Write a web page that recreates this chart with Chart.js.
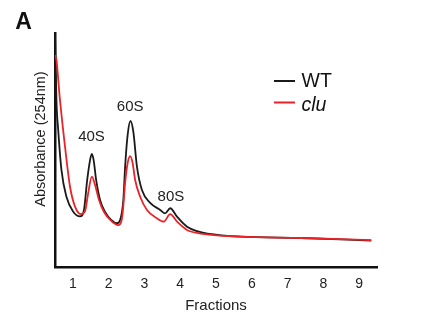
<!DOCTYPE html>
<html>
<head>
<meta charset="utf-8">
<script src="https://cdn.jsdelivr.net/npm/chart.js@4/dist/chart.umd.min.js"></script>
<style>
  html, body { margin: 0; padding: 0; background: #fff; }
  canvas { display: block; }
</style>
</head>
<body>
<canvas id="c" width="427" height="323"></canvas>
<script>
// ---- data ----
const fractionTicks = [1, 2, 3, 4, 5, 6, 7, 8, 9];

const wtX = [0.5, 0.54, 0.59, 0.68, 0.82, 1.01, 1.20, 1.31, 1.40, 1.48, 1.53, 1.58, 1.65, 1.76, 1.90, 2.07, 2.23, 2.32, 2.41, 2.46, 2.53, 2.61, 2.69, 2.79, 2.93, 3.16, 3.44, 3.58, 3.72, 3.91, 4.19, 4.52, 4.76, 5.69, 7.38, 9.34];
const wtY = [100, 71.4, 58.5, 41.5, 30.0, 23.6, 21.6, 24.4, 37.2, 45.7, 48.3, 45.7, 37.2, 28.6, 23.5, 20.1, 18.7, 20.1, 28.6, 42.9, 56.4, 62.4, 57.7, 42.9, 32.9, 27.4, 24.4, 22.9, 25.1, 21.5, 17.2, 15.1, 14.3, 13.0, 12.4, 11.3];

const cluX = [0.5, 0.54, 0.63, 0.78, 0.92, 1.06, 1.22, 1.34, 1.42, 1.53, 1.62, 1.73, 1.87, 2.07, 2.27, 2.35, 2.40, 2.46, 2.53, 2.60, 2.67, 2.74, 2.88, 3.07, 3.35, 3.54, 3.72, 3.91, 4.19, 4.57, 5.69, 7.38, 9.34];
const cluY = [90.6, 88.5, 72.8, 51.4, 34.3, 25.8, 22.6, 23.9, 30.8, 38.6, 35.0, 28.6, 23.5, 19.7, 17.9, 19.2, 24.4, 35.9, 44.4, 47.4, 44.4, 37.2, 30.0, 24.4, 20.8, 19.4, 22.6, 19.4, 15.8, 14.3, 13.0, 12.4, 11.5];

const seriesNames = ['WT', 'clu'];
const peakLabels = ['40S', '60S', '80S'];
const peakLabelX = [1.52, 2.60, 3.74];
const peakLabelY = [55.5, 68.5, 30];

const yTitle = 'Absorbance (254nm)';
const xTitle = 'Fractions';
const panelLetter = 'A';

const toPts = (xs, ys) => xs.map((x, i) => ({ x: x, y: ys[i] }));

const annotations = {
  id: 'annotations',
  afterDatasetsDraw(chart) {
    const ctx = chart.ctx;
    const xs = chart.scales.x, ys = chart.scales.y;
    ctx.save();
    // peak labels
    ctx.fillStyle = '#222';
    ctx.font = '15px "Liberation Sans", Arial, sans-serif';
    ctx.textAlign = 'center';
    ctx.textBaseline = 'middle';
    peakLabels.forEach((t, i) => {
      ctx.fillText(t, xs.getPixelForValue(peakLabelX[i]), ys.getPixelForValue(peakLabelY[i]));
    });
    // panel letter
    ctx.font = 'bold 23px "Liberation Sans", Arial, sans-serif';
    ctx.textAlign = 'center';
    ctx.textBaseline = 'alphabetic';
    ctx.fillStyle = '#111';
    ctx.fillText(panelLetter, 23.5, 29);
    // legend
    const colors = [chart.data.datasets[0].borderColor, chart.data.datasets[1].borderColor];
    const rowsY = [81, 102.5];
    const baseY = [86.5, 111];
    seriesNames.forEach((n, i) => {
      ctx.strokeStyle = colors[i];
      ctx.lineWidth = 2;
      ctx.beginPath();
      ctx.moveTo(274, rowsY[i]);
      ctx.lineTo(295, rowsY[i]);
      ctx.stroke();
      ctx.fillStyle = '#111';
      ctx.font = (i === 1 ? 'italic ' : '') + '19.5px "Liberation Sans", Arial, sans-serif';
      ctx.textAlign = 'left';
      ctx.textBaseline = 'alphabetic';
      ctx.fillText(n, 301.5, baseY[i]);
    });
    // y axis title
    ctx.translate(41, 139);
    ctx.rotate(-Math.PI / 2);
    ctx.font = '14.5px "Liberation Sans", Arial, sans-serif';
    ctx.textAlign = 'center';
    ctx.textBaseline = 'middle';
    ctx.fillStyle = '#222';
    ctx.fillText(yTitle, 0, 0);
    ctx.restore();
  }
};

new Chart(document.getElementById('c'), {
  type: 'line',
  data: {
    datasets: [
      {
        label: seriesNames[0],
        data: toPts(wtX, wtY),
        borderColor: '#1a1a1a',
        borderWidth: 1.8,
        pointRadius: 0,
        cubicInterpolationMode: 'monotone',
        fill: false,
        order: 2
      },
      {
        label: seriesNames[1],
        data: toPts(cluX, cluY),
        borderColor: '#ec2227',
        borderWidth: 1.8,
        pointRadius: 0,
        cubicInterpolationMode: 'monotone',
        fill: false,
        order: 1
      }
    ]
  },
  options: {
    responsive: false,
    animation: false,
    devicePixelRatio: 1,
    layout: { padding: { left: 0, right: 50, top: 33, bottom: 0 } },
    plugins: {
      legend: { display: false },
      tooltip: { enabled: false }
    },
    scales: {
      x: {
        type: 'linear',
        min: 0.5,
        max: 9.5,
        afterBuildTicks: (s) => { s.ticks = fractionTicks.map(v => ({ value: v })); },
        afterFit: (s) => { s.height = 323 - 267; },
        grid: { display: false, drawTicks: false },
        border: { display: true, color: '#111', width: 2.5 },
        ticks: {
          color: '#222',
          padding: 9,
          maxRotation: 0,
          autoSkip: false,
          font: { family: '"Liberation Sans", Arial, sans-serif', size: 14 }
        },
        title: {
          display: true,
          text: xTitle,
          color: '#222',
          padding: { top: 0, bottom: 8 },
          font: { family: '"Liberation Sans", Arial, sans-serif', size: 15 }
        }
      },
      y: {
        type: 'linear',
        min: 0,
        max: 100,
        afterFit: (s) => { s.width = 55; },
        grid: { display: false, drawTicks: false },
        border: { display: true, color: '#111', width: 2.5 },
        ticks: { display: false }
      }
    }
  },
  plugins: [annotations]
});
</script>
</body>
</html>
